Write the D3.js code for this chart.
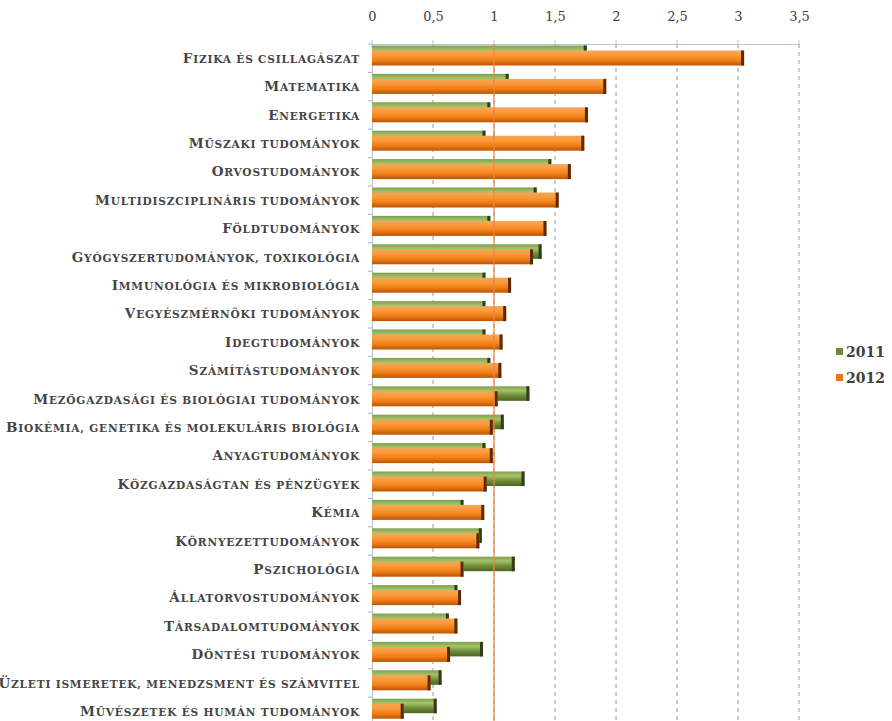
<!DOCTYPE html>
<html>
<head>
<meta charset="utf-8">
<script src="https://cdn.jsdelivr.net/npm/d3@7"></script>
<style>
  body { margin: 0; background: #fff; }
  .cat-label { font-family: 'DejaVu Serif', serif; fill: #454545; font-weight: bold; letter-spacing: 0.8px; }
  .tick-label { font-family: 'DejaVu Serif', serif; font-size: 13px; fill: #404040; }
  .legend-label { font-family: 'DejaVu Serif', serif; font-size: 14px; fill: #404040; font-weight: bold; }
</style>
</head>
<body>
<div class="bar-chart"></div>
<script>
const categories = [
  'Fizika és csillagászat',
  'Matematika',
  'Energetika',
  'Műszaki tudományok',
  'Orvostudományok',
  'Multidiszciplináris tudományok',
  'Földtudományok',
  'Gyógyszertudományok, toxikológia',
  'Immunológia és mikrobiológia',
  'Vegyészmérnöki tudományok',
  'Idegtudományok',
  'Számítástudományok',
  'Mezőgazdasági és biológiai tudományok',
  'Biokémia, genetika és molekuláris biológia',
  'Anyagtudományok',
  'Közgazdaságtan és pénzügyek',
  'Kémia',
  'Környezettudományok',
  'Pszichológia',
  'Állatorvostudományok',
  'Társadalomtudományok',
  'Döntési tudományok',
  'Üzleti ismeretek, menedzsment és számvitel',
  'Művészetek és humán tudományok',
];

const values2011 = [1.76, 1.12, 0.97, 0.93, 1.47, 1.35, 0.97, 1.39, 0.93, 0.93, 0.93, 0.97,
  1.29, 1.08, 0.93, 1.25, 0.75, 0.90, 1.17, 0.70, 0.63, 0.91, 0.57, 0.53];
const values2012 = [3.05, 1.92, 1.77, 1.74, 1.63, 1.53, 1.43, 1.32, 1.14, 1.10, 1.07, 1.06,
  1.03, 0.99, 0.99, 0.94, 0.92, 0.88, 0.75, 0.73, 0.70, 0.64, 0.48, 0.26];

const seriesNames = ['2011', '2012'];
const xTicks = [0, 0.5, 1, 1.5, 2, 2.5, 3, 3.5];
const referenceValue = 1;

const width = 892;
const height = 721;
const plot = { left: 372, right: 799, top: 44, rowHeight: 28.4 };

const svg = d3
  .select('.bar-chart')
  .append('svg')
  .attr('width', width)
  .attr('height', height);

const defs = svg.append('defs');

const addGradient = (id, stops) => {
  const g = defs
    .append('linearGradient')
    .attr('id', id)
    .attr('x1', 0).attr('y1', 0)
    .attr('x2', 0).attr('y2', 1);
  stops.forEach(([offset, color]) => {
    g.append('stop').attr('offset', offset).attr('stop-color', color);
  });
};

addGradient('grad2011', [
  [0, '#7f9e4c'], [0.3, '#a3c46a'], [0.6, '#74923d'], [1, '#4a6322'],
]);
addGradient('grad2012', [
  [0, '#f3a85a'], [0.3, '#fb9a3a'], [0.65, '#f07f16'], [1, '#b95508'],
]);

const xScale = d3.scaleLinear().domain([0, 3.5]).range([plot.left, plot.right]);
const yScale = d3
  .scaleBand()
  .domain(categories)
  .range([plot.top, plot.top + categories.length * plot.rowHeight]);

const band = yScale.bandwidth();
const plotBottom = plot.top + categories.length * plot.rowHeight;

// dashed gridlines
svg
  .append('g')
  .selectAll('line')
  .data(xTicks.filter((d) => d > 0))
  .enter()
  .append('line')
  .attr('x1', (d) => xScale(d))
  .attr('x2', (d) => xScale(d))
  .attr('y1', plot.top)
  .attr('y2', plotBottom)
  .attr('stroke', '#9a9a9a')
  .attr('stroke-width', 1)
  .attr('stroke-dasharray', '4,4');

// top axis
const xAxis = d3.axisTop(xScale).tickValues(xTicks).tickSize(0).tickFormat((d) => String(d).replace('.', ','));
const axisG = svg.append('g').attr('transform', `translate(0, ${plot.top})`).call(xAxis);
axisG.select('.domain').attr('stroke', '#b8c4d4');
axisG.selectAll('text').attr('class', 'tick-label').attr('dy', 0).attr('y', -23);

// small crossing tick marks on the top axis
svg
  .append('g')
  .selectAll('line')
  .data(xTicks)
  .enter()
  .append('line')
  .attr('x1', (d) => xScale(d))
  .attr('x2', (d) => xScale(d))
  .attr('y1', plot.top - 4)
  .attr('y2', plot.top + 4)
  .attr('stroke', '#b8c4d4');

// left axis
const yAxis = d3.axisLeft(yScale).tickSize(0).tickFormat('');
const yAxisG = svg.append('g').attr('transform', `translate(${plot.left}, 0)`).call(yAxis);
yAxisG.select('.domain').attr('stroke', '#b8c4d4');
svg
  .append('g')
  .selectAll('line')
  .data(categories)
  .enter()
  .append('line')
  .attr('x1', plot.left - 4)
  .attr('x2', plot.left)
  .attr('y1', (d) => yScale(d))
  .attr('y2', (d) => yScale(d))
  .attr('stroke', '#9fb3cf');

// category labels, drawn as small caps: big first letter, rest in smaller capitals
const labels = svg
  .append('g')
  .selectAll('text')
  .data(categories)
  .enter()
  .append('text')
  .attr('class', 'cat-label')
  .attr('x', 360)
  .attr('y', (d) => yScale(d) + band / 2 + 4.5)
  .attr('text-anchor', 'end');
labels.append('tspan').attr('font-size', 13.5).text((d) => d[0].toUpperCase());
labels.append('tspan').attr('font-size', 10.6).text((d) => d.slice(1).toUpperCase());

// bars
const drawSeries = (values, gradId, capColor, offset, barH) => {
  const g = svg.append('g');
  g.selectAll('rect.bar')
    .data(values)
    .enter()
    .append('rect')
    .attr('class', 'bar')
    .attr('x', xScale(0))
    .attr('y', (d, i) => yScale(categories[i]) + offset)
    .attr('width', (d) => xScale(d) - xScale(0))
    .attr('height', barH)
    .attr('fill', `url(#${gradId})`);
  g.selectAll('rect.cap')
    .data(values)
    .enter()
    .append('rect')
    .attr('class', 'cap')
    .attr('x', (d) => xScale(d) - 3)
    .attr('y', (d, i) => yScale(categories[i]) + offset)
    .attr('width', 3)
    .attr('height', barH)
    .attr('fill', capColor);
};

drawSeries(values2011, 'grad2011', '#2f3d18', 1.5, 14.5);
drawSeries(values2012, 'grad2012', '#5a2a06', 6.5, 15);

// reference line at 1
svg
  .append('line')
  .attr('x1', xScale(referenceValue))
  .attr('x2', xScale(referenceValue))
  .attr('y1', plot.top)
  .attr('y2', plotBottom)
  .attr('stroke', '#f0843a')
  .attr('stroke-width', 1.2);

// legend
const legend = svg
  .append('g')
  .selectAll('g')
  .data(seriesNames)
  .enter()
  .append('g')
  .attr('transform', (d, i) => `translate(836, ${348 + i * 26})`);
legend
  .append('rect')
  .attr('width', 7)
  .attr('height', 7)
  .attr('fill', (d, i) => (i === 0 ? '#6b8a3a' : '#e8781a'));
legend
  .append('text')
  .attr('class', 'legend-label')
  .attr('x', 10)
  .attr('y', 4)
  .attr('dy', '0.35em')
  .text((d) => d);
</script>
</body>
</html>
